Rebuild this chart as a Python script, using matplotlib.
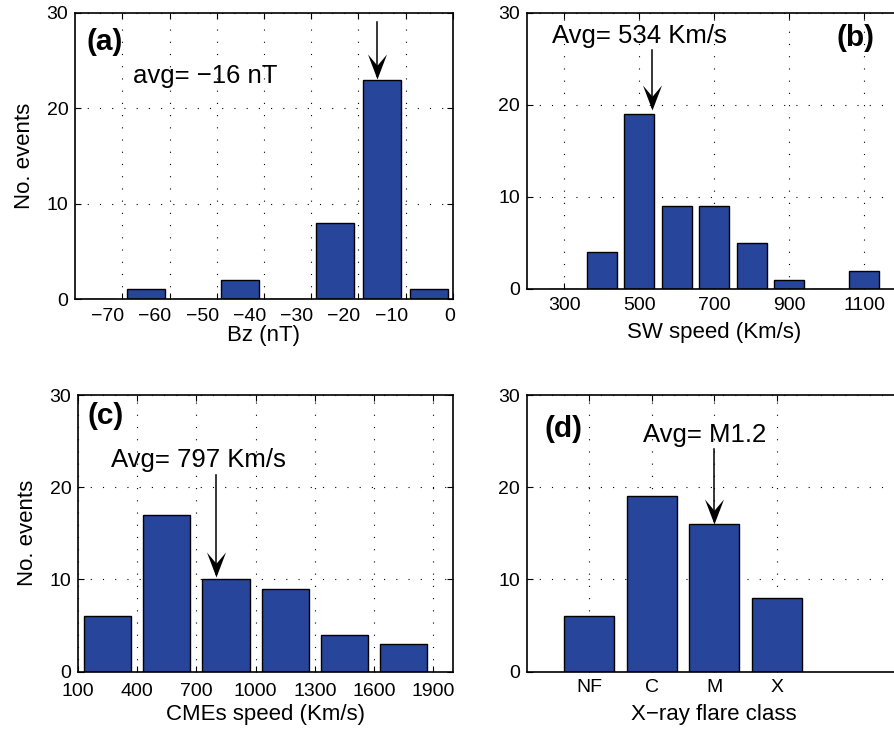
import matplotlib
matplotlib.use('Agg')
import matplotlib.pyplot as plt
from matplotlib.path import Path
from matplotlib.transforms import ScaledTranslation

plt.rcParams['font.family'] = ['Liberation Sans', 'DejaVu Sans']
plt.rcParams['axes.unicode_minus'] = True

# (a) Bz distribution, 10 nT bins
bz_centers = [-75, -65, -55, -45, -35, -25, -15, -5]
bz_counts = [0, 1, 0, 2, 0, 8, 23, 1]
bz_avg = -16

# (b) solar wind speed, 100 km/s bins
sw_centers = [300, 400, 500, 600, 700, 800, 900, 1000, 1100]
sw_counts = [0, 4, 19, 9, 9, 5, 1, 0, 2]
sw_avg = 534

# (c) CME speed, 300 km/s bins
cme_centers = [250, 550, 850, 1150, 1450, 1750]
cme_counts = [6, 17, 10, 9, 4, 3]
cme_avg = 797

# (d) X-ray flare class
flare_classes = ['NF', 'C', 'M', 'X']
flare_counts = [6, 19, 16, 8]
flare_avg_class = 'M'
flare_avg_label = 'M1.2'

BAR_COLOR = '#26459B'
TICK_FS = 14
LABEL_FS = 16
NOTE_FS = 18.5
PANEL_FS = 21.5

# arrow head with a notched back, tip at the origin
head = Path([(0, 0), (-0.38, 1), (0, 0.55), (0.38, 1), (0, 0)],
            [Path.MOVETO, Path.LINETO, Path.LINETO, Path.LINETO, Path.CLOSEPOLY])

fig = plt.figure(figsize=(8.94, 7.37), dpi=100)
axa = fig.add_axes([0.0839, 0.5943, 0.4228, 0.3881])
axb = fig.add_axes([0.5891, 0.6079, 0.4193, 0.3745])
axc = fig.add_axes([0.0872, 0.0886, 0.4195, 0.3754])
axd = fig.add_axes([0.5891, 0.0886, 0.4195, 0.3754])


def style(ax, xpad=5.5):
    ax.set_ylim(0, 30)
    ax.set_yticks([0, 10, 20, 30])
    ax.set_axisbelow(True)
    ax.grid(True, color='black', linestyle=(0, (1, 10)), linewidth=0.8)
    ax.tick_params(direction='in', top=True, right=True, length=4, width=0.8,
                   labelsize=TICK_FS)
    ax.tick_params(axis='x', pad=xpad)
    ax.tick_params(axis='y', pad=4.8)
    for s in ax.spines.values():
        s.set_linewidth(1.2)


def arrow(ax, x, y_tail, y_tip):
    ax.plot([x, x], [y_tail, y_tip + 0.3], color='black', lw=1.1, zorder=5)
    ax.plot([x], [y_tip], marker=head, markersize=36, color='black',
            markeredgewidth=0, linestyle='none', zorder=6)


# (a)
ax = axa
style(ax, xpad=6.7)
ax.bar(bz_centers, bz_counts, width=8, color=BAR_COLOR, edgecolor='black', linewidth=1)
ax.set_xlim(-80, 0)
ax.set_xticks(range(-70, 1, 10))
shift = ScaledTranslation(2 / 100, 0, fig.dpi_scale_trans)
for lab in ax.get_xticklabels():
    lab.set_ha('right')
    lab.set_transform(lab.get_transform() + shift)
ax.set_xlabel('Bz (nT)', fontsize=LABEL_FS, labelpad=0)
ax.set_ylabel('No. events', fontsize=LABEL_FS, labelpad=8)
ax.text(-77.5, 26.15, '(a)', fontsize=PANEL_FS, fontweight='bold', va='baseline')
ax.text(-67.7, 22.7, 'avg= \u221216 nT', fontsize=NOTE_FS, va='baseline')
arrow(ax, bz_avg, 29.1, bz_counts[bz_centers.index(-15)] + 0.1)

# (b)
ax = axb
style(ax)
ax.bar(sw_centers, sw_counts, width=80, color=BAR_COLOR, edgecolor='black', linewidth=1)
ax.set_xlim(200, 1200)
ax.set_xticks([300, 500, 700, 900, 1100])
ax.set_xlabel('SW speed (Km/s)', fontsize=LABEL_FS, labelpad=6.1)
ax.text(1026.7, 26.4, '(b)', fontsize=PANEL_FS, fontweight='bold', va='baseline')
ax.text(266.7, 26.7, 'Avg= %d Km/s' % sw_avg, fontsize=NOTE_FS, va='baseline')
arrow(ax, sw_avg, 26.0, sw_counts[sw_centers.index(500)] + 0.45)

# (c)
ax = axc
style(ax, xpad=8)
ax.bar(cme_centers, cme_counts, width=240, color=BAR_COLOR, edgecolor='black', linewidth=1)
ax.set_xlim(100, 2000)
ax.set_xticks(range(100, 1901, 300))
ax.set_xlabel('CMEs speed (Km/s)', fontsize=LABEL_FS, labelpad=3.1)
ax.set_ylabel('No. events', fontsize=LABEL_FS, labelpad=8)
ax.text(150.7, 26.9, '(c)', fontsize=PANEL_FS, fontweight='bold', va='baseline')
ax.text(269, 22.16, 'Avg= %d Km/s' % cme_avg, fontsize=NOTE_FS, va='baseline')
arrow(ax, cme_avg, 21.3, cme_counts[cme_centers.index(850)] + 0.3)

# (d)
ax = axd
style(ax)
xpos = list(range(1, len(flare_classes) + 1))
ax.bar(xpos, flare_counts, width=0.8, color=BAR_COLOR, edgecolor='black', linewidth=1)
ax.set_xlim(0, 6)
ax.set_xticks(xpos)
ax.set_xticklabels(flare_classes)
ax.set_xlabel('X\u2212ray flare class', fontsize=LABEL_FS, labelpad=5.6)
ax.text(0.28, 25.5, '(d)', fontsize=PANEL_FS, fontweight='bold', va='baseline')
ax.text(1.858, 24.94, 'Avg= ' + flare_avg_label, fontsize=NOTE_FS, va='baseline')
i = flare_classes.index(flare_avg_class)
arrow(ax, xpos[i], 24.2, flare_counts[i])

fig.savefig('out.png', dpi=100, facecolor='white')
